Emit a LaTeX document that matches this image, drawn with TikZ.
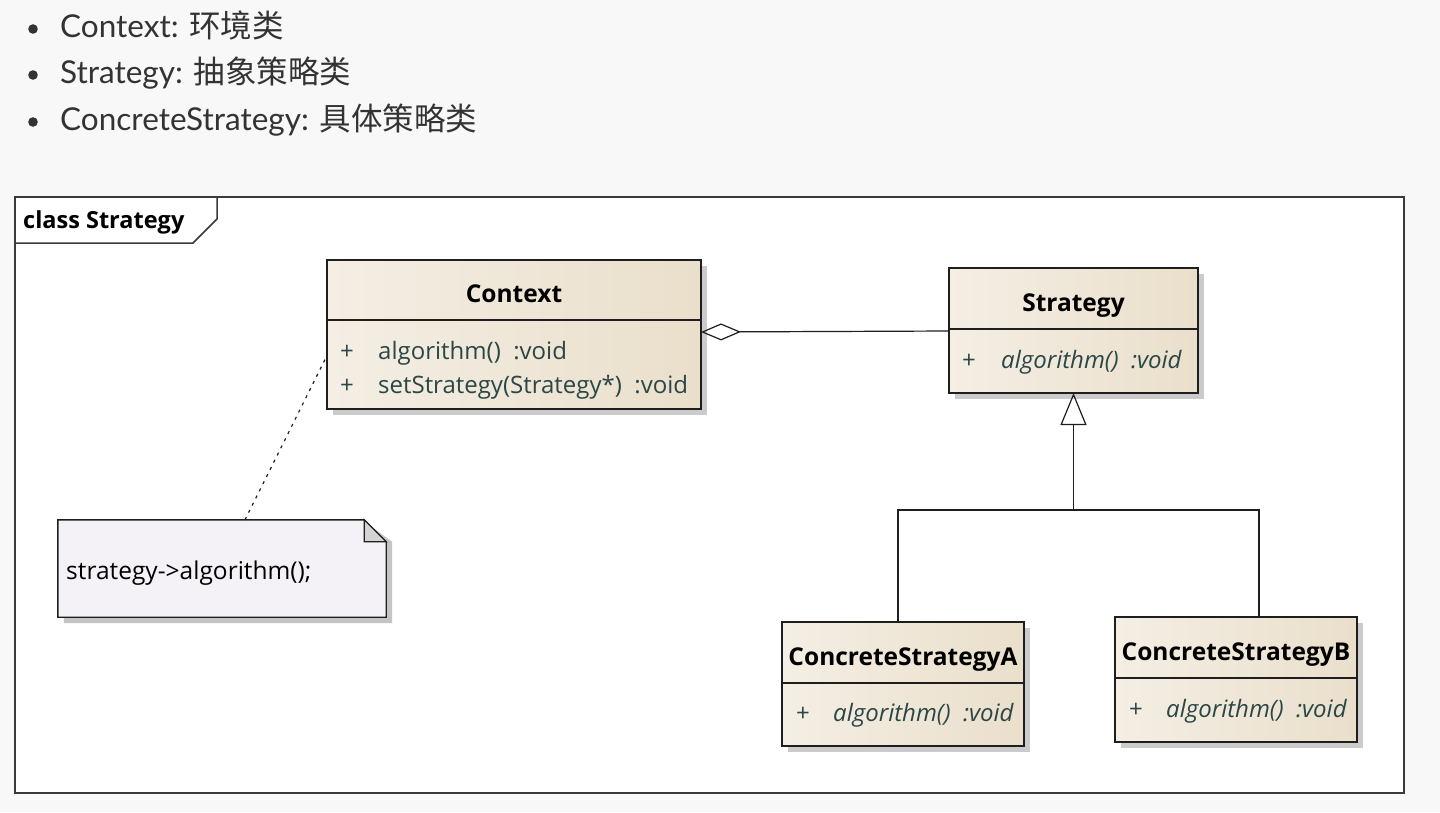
\documentclass[tikz,border=0pt]{standalone}
\usepackage{fontspec}
\setmainfont{Lato}
\newfontfamily\cjk{Noto Sans CJK SC}
\newfontfamily\uml{Open Sans}
\usetikzlibrary{arrows.meta, positioning, shadows}

\definecolor{pagebg}{HTML}{F8F8F8}
\definecolor{listgray}{HTML}{333333}
\definecolor{frameline}{HTML}{3A3A3A}
\definecolor{boxline}{HTML}{1E1E1E}
\definecolor{classleft}{HTML}{F4EEE4}
\definecolor{classright}{HTML}{EADFCB}
\definecolor{membertext}{HTML}{2B4646}
\definecolor{notefill}{HTML}{F4F2F7}
\definecolor{foldfill}{HTML}{D4D4D4}
\definecolor{shadowgray}{HTML}{C4C4C4}

\tikzset{
  listtext/.style={anchor=base west, inner sep=0pt, text=listgray, font=\fontsize{31.5}{36}\selectfont},
  framebox/.style={draw=frameline, line width=1.5pt},
  tabtext/.style={anchor=base west, inner sep=0pt, font=\uml\bfseries\fontsize{23.5}{27}\selectfont},
  classhead/.style={draw=boxline, line width=1.4pt, left color=classleft, right color=classright,
    inner sep=0pt, outer sep=0pt, text height=25pt, text depth=0pt,
    font=\uml\bfseries\fontsize{24.5}{28}\selectfont,
    drop shadow={shadow xshift=6pt, shadow yshift=-6pt, fill=black!40, opacity=0.5}},
  classbody/.style={classhead},
  member/.style={anchor=base west, inner sep=0pt, text=membertext, font=\uml\fontsize{24}{28}\selectfont},
  absmember/.style={member, font=\uml\itshape\fontsize{24}{28}\selectfont},
  notebox/.style={draw=boxline, line width=1.4pt, fill=notefill},
  foldbox/.style={draw=boxline, line width=1.2pt, fill=foldfill},
  notetext/.style={anchor=base west, inner sep=0pt, font=\uml\fontsize{24.5}{28}\selectfont},
  noteline/.style={draw=boxline, line width=1.2pt, dash pattern=on 3pt off 5pt},
  aggregation/.style={draw=boxline, line width=1.2pt, {Diamond[open, length=40pt, width=17pt, line width=1.2pt]}-},
  inherit/.style={draw=boxline, line width=1.2pt, -{Triangle[open, length=32pt, width=26pt, line width=1.2pt]}},
  treeline/.style={draw=boxline, line width=1.2pt}
}

\begin{document}
\begin{tikzpicture}[x=1pt, y=-1pt]
  % page, bullet list
  \useasboundingbox (0,0) rectangle (1440,812);
  \fill[pagebg] (0,0) rectangle (1440,812);
  \fill[listgray] (33,29) circle (4.8pt);
  \fill[listgray] (33,75) circle (4.8pt);
  \fill[listgray] (33,122) circle (4.8pt);
  \node[listtext] (item1) at (60,37) {Context: {\cjk 环境类}};
  \node[listtext] (item2) at (60,83) {Strategy: {\cjk 抽象策略类}};
  \node[listtext] (item3) at (60,130) {ConcreteStrategy: {\cjk 具体策略类}};

  % diagram frame
  \fill[white] (15,197) rectangle (1404,793);
  \draw[framebox] (15,197) rectangle (1404,793);
  \draw[framebox] (15,243) -- (193,243) -- (217,219) -- (217,197);
  \node[tabtext] (tabname) at (23,228) {class Strategy};

  % Context
  \node[classhead, minimum width=374pt, minimum height=60pt] (contexth) at (514,290) {Context};
  \node[classbody, minimum width=374pt, minimum height=89pt, below=0pt of contexth] (contextb) {};
  \node[member] (contextp1) at (340,359) {+};
  \node[member] (contextm1) at (378,359) {algorithm()~~:void};
  \node[member] (contextp2) at (340,393) {+};
  \node[member] (contextm2) at (378,393) {setStrategy(Strategy*)~~:void};

  % Strategy
  \node[classhead, minimum width=249pt, minimum height=61pt] (strategyh) at (1073.5,298.5) {Strategy};
  \node[classbody, minimum width=249pt, minimum height=64pt, below=0pt of strategyh] (strategyb) {};
  \node[member] (strategyp1) at (962,368) {+};
  \node[absmember] (strategym1) at (1001,368) {algorithm()~~:void};

  % ConcreteStrategyA
  \node[classhead, minimum width=242pt, minimum height=61pt] (concAh) at (903,652.5) {ConcreteStrategyA};
  \node[classbody, minimum width=242pt, minimum height=63pt, below=0pt of concAh] (concAb) {};
  \node[member] (concAp1) at (796,721) {+};
  \node[absmember] (concAm1) at (833,721) {algorithm()~~:void};

  % ConcreteStrategyB
  \node[classhead, minimum width=242pt, minimum height=61pt] (concBh) at (1236,647.5) {ConcreteStrategyB};
  \node[classbody, minimum width=242pt, minimum height=64pt, below=0pt of concBh] (concBb) {};
  \node[member] (concBp1) at (1129,717) {+};
  \node[absmember] (concBm1) at (1166,717) {algorithm()~~:void};

  % note
  \node[inner sep=0pt, minimum width=328pt, minimum height=97pt] (note) at (222,568.5) {};
  \fill[shadowgray] ([shift={(6pt,-6pt)}]note.north west) -- ([shift={(-16pt,-6pt)}]note.north east)
    -- ([shift={(6pt,-22pt)}]note.north east) -- ([shift={(6pt,-6pt)}]note.south east)
    -- ([shift={(6pt,-6pt)}]note.south west) -- cycle;
  \filldraw[notebox] (note.north west) -- ([xshift=-22pt]note.north east) -- ([yshift=-22pt]note.north east)
    -- (note.south east) -- (note.south west) -- cycle;
  \filldraw[foldbox] ([xshift=-22pt]note.north east) -- ([yshift=-22pt]note.north east)
    -- ([shift={(-22pt,-22pt)}]note.north east) -- cycle;
  \node[notetext] (notetxt) at (66,579) {strategy->algorithm();};

  % connectors
  \draw[noteline] ([xshift=23pt]note.north) -- ([yshift=9pt]contextb.west);
  \draw[aggregation] ([yshift=-12pt]contextb.north east) -- ([yshift=-2pt]strategyb.north west);
  \coordinate (branch) at ([yshift=-117pt]strategyb.south);
  \draw[inherit] (branch) -- (strategyb.south);
  \draw[treeline] ([xshift=-5pt]concAh.north) |- (branch) -| ([xshift=23pt]concBh.north);
\end{tikzpicture}
\end{document}
